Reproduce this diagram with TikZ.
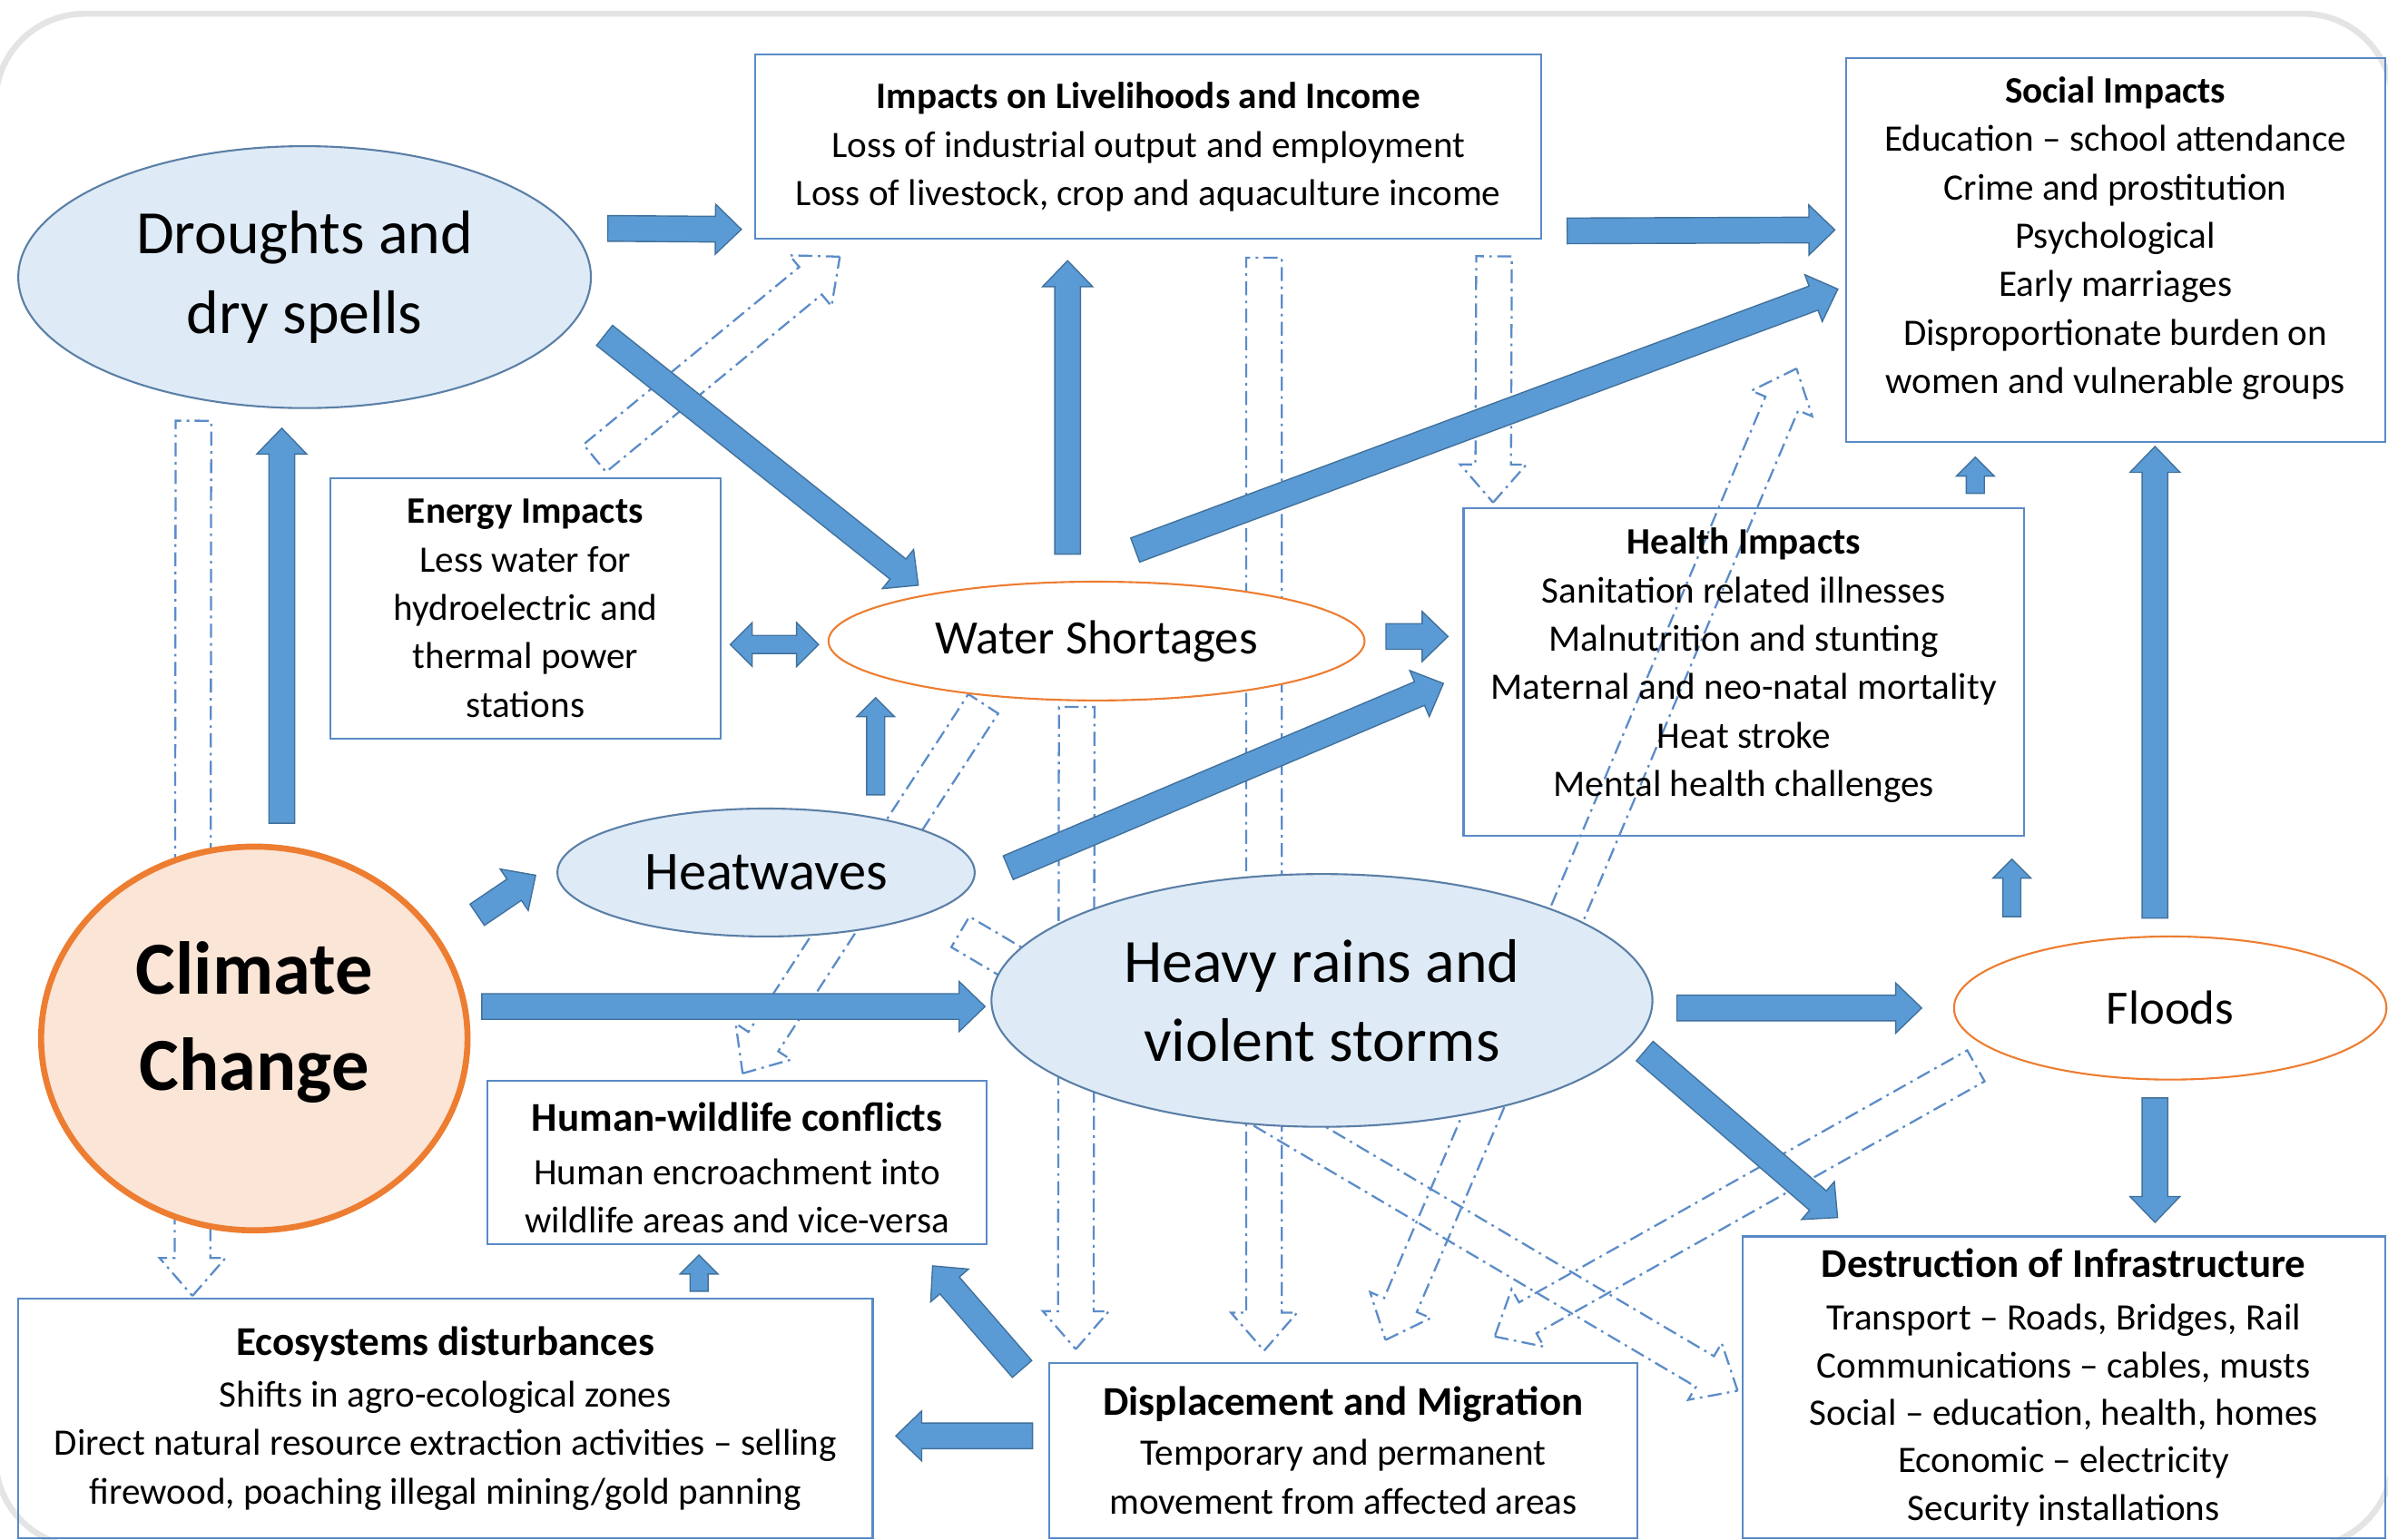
\documentclass[tikz,border=0pt]{standalone}
\usepackage{fontspec}
\setmainfont{Carlito}
\usetikzlibrary{shapes.geometric, shapes.arrows, calc}

\definecolor{arrowblue}{HTML}{5B9BD5}
\definecolor{arrowedge}{HTML}{41719C}
\definecolor{paleblue}{HTML}{DEEBF7}
\definecolor{ringblue}{HTML}{5B7FA6}
\definecolor{boxblue}{HTML}{5A8AC6}
\definecolor{linkblue}{HTML}{5B8CC8}
\definecolor{hotorange}{HTML}{ED7D31}
\definecolor{palepeach}{HTML}{FBE5D6}
\definecolor{framegray}{HTML}{E4E4E4}

\pgfdeclarelayer{frame}
\pgfdeclarelayer{links}
\pgfsetlayers{frame,links,main}

\newcommand{\dpx}{0.4774pt}
\newcommand{\boxhead}[1]{{\fontsize{12.8}{15.2}\selectfont\bfseries #1}}
% block arrow from one point to another, drawn as a rotated arrow shape
\newcommand{\blockarrow}[3][]{%
  \path let \p1=(#2), \p2=(#3),
    \n1={veclen(\x2-\x1,\y2-\y1)}, \n2={atan2(\y2-\y1,\x2-\x1)} in
    node[single arrow, anchor=tail, rotate=\n2, minimum height=\n1, #1] at (\p1) {};}

\begin{document}
\begin{tikzpicture}[
  x=0.4774pt, y=-0.4774pt,
  box/.style={draw=boxblue, line width=0.6pt, inner sep=0pt, align=center, font=\fontsize{11.7}{15.2}\selectfont},
  hazard/.style={ellipse, draw=ringblue, fill=paleblue, line width=0.6pt, inner sep=0pt, align=center},
  effect/.style={ellipse, draw=hotorange, fill=white, line width=0.6pt, inner sep=0pt, align=center},
  flow/.style={fill=arrowblue, draw=arrowedge, line width=0.4pt, inner xsep=0pt, inner ysep=3.82pt, single arrow head extend=3.82pt, single arrow tip angle=88, minimum width=0pt},
  smallflow/.style={flow, inner ysep=2.63pt, single arrow head extend=3.1pt, single arrow tip angle=90},
  link/.style={draw=linkblue, line width=0.65pt, dash pattern=on 4.4pt off 1.7pt on 0.8pt off 1.7pt, inner xsep=0pt, inner ysep=5.25pt, single arrow head extend=4.77pt, single arrow tip angle=82, minimum width=0pt}
]
\useasboundingbox (0,0) rectangle (1568,1011);

% card outline
\begin{pgfonlayer}{frame}
  \draw[framegray, line width=1.9pt, rounded corners=28pt] (-3,9) rectangle (1571,1016);
\end{pgfonlayer}

% Drivers
\node[effect, draw=hotorange, fill=palepeach, line width=1.9pt, minimum width=280*\dpx, minimum height=252*\dpx,
      font=\fontsize{23.5}{30}\selectfont\bfseries] (climate) at (167,682) {Climate\\Change\rule[-14.2pt]{0pt}{14.2pt}};
\node[hazard, minimum width=376*\dpx, minimum height=172*\dpx, font=\fontsize{19.3}{24.8}\selectfont] (droughts) at (200,182) {Droughts and\\dry spells};
\node[hazard, minimum width=274*\dpx, minimum height=84*\dpx, font=\fontsize{17.2}{20}\selectfont] (heat) at (503,573) {Heatwaves};
\node[hazard, minimum width=434*\dpx, minimum height=166*\dpx, font=\fontsize{19.3}{24.8}\selectfont] (heavy) at (868,657) {Heavy rains and\\violent storms};

% Direct effects
\node[effect, minimum width=352*\dpx, minimum height=78*\dpx, font=\fontsize{15}{18}\selectfont] (water) at (720,421) {Water Shortages};
\node[effect, minimum width=284*\dpx, minimum height=94*\dpx, font=\fontsize{15}{18}\selectfont] (floods) at (1425,662) {Floods};

% Impact boxes
\node[box, minimum width=516*\dpx, minimum height=121*\dpx] (livelihoods) at (754,96.5)
  {\textbf{Impacts on Livelihoods and Income}\\Loss of industrial output and employment\\Loss of livestock, crop and aquaculture income};
\node[box, minimum width=354*\dpx, minimum height=252*\dpx] (social) at (1389,164)
  {\textbf{Social Impacts}\\Education – school attendance\\Crime and prostitution\\Psychological\\Early marriages\\Disproportionate burden on\\women and vulnerable groups\rule[-9.2pt]{0pt}{9.2pt}};
\node[box, minimum width=256*\dpx, minimum height=171*\dpx] (energy) at (345,399.5)
  {\textbf{Energy Impacts}\\Less water for\\hydroelectric and\\thermal power\\stations};
\node[box, minimum width=368*\dpx, minimum height=215*\dpx] (health) at (1145,441.5)
  {\textbf{Health Impacts}\\Sanitation related illnesses\\Malnutrition and stunting\\Maternal and neo-natal mortality\\Heat stroke\\Mental health challenges\rule[-6.3pt]{0pt}{6.3pt}};
\node[box, minimum width=328*\dpx, minimum height=107*\dpx] (human) at (484,763.5)
  {\boxhead{\rule{0pt}{12.4pt}Human-wildlife conflicts}\\[1.5pt]Human encroachment into\\wildlife areas and vice-versa};
\node[box, minimum width=561*\dpx, minimum height=157*\dpx] (eco) at (292.5,931.5)
  {\boxhead{Ecosystems disturbances}\\[1pt]Shifts in agro-ecological zones\\Direct natural resource extraction activities – selling\\firewood, poaching illegal mining/gold panning};
\node[box, minimum width=386*\dpx, minimum height=115*\dpx] (displ) at (882,952.5)
  {\boxhead{Displacement and Migration}\\[0.5pt]Temporary and permanent\\movement from affected areas};
\node[box, minimum width=422*\dpx, minimum height=198*\dpx, font=\fontsize{11.7}{14.9}\selectfont] (destr) at (1355,911)
  {\boxhead{Destruction of Infrastructure}\\[1.8pt]Transport – Roads, Bridges, Rail\\Communications – cables, musts\\Social – education, health, homes\\Economic – electricity\\Security installations};

% Secondary links (dash-dot outline arrows, behind the shapes)
\begin{pgfonlayer}{links}
\blockarrow[link]{$(droughts.south)+(-73,7)$}{$(eco.north west)+(115,-2)$}
\blockarrow[link]{$(energy.north)+(45,-12)$}{$(livelihoods.south west)+(56,11)$}
\blockarrow[link]{$(livelihoods.south)+(76,11)$}{$(displ.north)+(-52,-8)$}
\blockarrow[link]{$(livelihoods.south)+(227,10)$}{$(health.north west)+(20,-4)$}
\blockarrow[link]{$(water.south)+(-13,3)$}{$(displ.north west)+(18,-9)$}
\blockarrow[link]{$(water.south)+(-74,1)$}{$(human.north)+(4,-5)$}
\blockarrow[link]{$(heavy.center)+(137,0)$}{$(social.south west)+(-32,-48)$}
\blockarrow[link]{$(heavy.center)+(137,0)$}{$(displ.north)+(28,-15)$}
\blockarrow[link]{$(floods.south)+(-127,-10)$}{$(displ.north)+(100,-17)$}
\blockarrow[link]{$(heat.south)+(127,-4)$}{$(destr.west)+(-3,2)$}
\end{pgfonlayer}

% Main flows
\blockarrow[flow]{$(climate.north)+(18,-13)$}{$(droughts.south)+(-15,13)$}
\blockarrow[flow]{$(climate.east)+(4,-81)$}{$(heat.west)+(-14,2)$}
\blockarrow[flow]{$(climate.east)+(7,-21)$}{$(heavy.west)+(-4,4)$}
\blockarrow[flow]{$(droughts.east)+(10,-32)$}{$(livelihoods.south west)+(-9,-7)$}
\blockarrow[flow]{$(droughts.east)+(8,38)$}{$(water.north)+(-117,3)$}
\blockarrow[flow]{$(livelihoods.south east)+(16,-6)$}{$(social.west)+(-7,-13)$}
\blockarrow[flow]{$(water.north)+(-19,-17)$}{$(livelihoods.south)+(-53,14)$}
\blockarrow[flow]{$(water.north)+(25,-20)$}{$(social.west)+(-5,26)$}
\blockarrow[flow]{$(water.east)+(13,-3)$}{$(health.west)+(-10,-23.5)$}
\blockarrow[smallflow]{$(heat.north)+(72,-8)$}{$(water.south)+(-145,-2)$}
\blockarrow[flow]{$(heat.east)+(21,-3)$}{$(health.west)+(-13,7.5)$}
\blockarrow[flow]{$(heavy.east)+(15,5)$}{$(floods.west)+(-21,0)$}
\blockarrow[flow]{$(heavy.east)+(-6,33)$}{$(destr.north west)+(63,-12)$}
\blockarrow[flow]{$(floods.north)+(-10,-11)$}{$(social.south)+(26,3)$}
\blockarrow[flow]{$(floods.south)+(-10,11)$}{$(destr.north)+(60,-9)$}
\blockarrow[smallflow]{$(floods.north)+(-104,-12)$}{$(health.south)+(176,15)$}
\blockarrow[smallflow]{$(health.north)+(152,-9)$}{$(social.south)+(-92,10)$}
\blockarrow[smallflow]{$(eco.north)+(166.5,-4)$}{$(human.south)+(-25,7)$}
\blockarrow[flow]{$(displ.north west)+(-17,5)$}{$(human.south east)+(-36,14)$}
\blockarrow[flow]{$(displ.west)+(-10,-9.5)$}{$(eco.east)+(15,11.5)$}

% two-way link between energy and water
\node[double arrow, fill=arrowblue, draw=arrowedge, line width=0.4pt, inner xsep=0pt, inner ysep=2.63pt,
      double arrow head extend=4.06pt, double arrow tip angle=90, minimum width=0pt, minimum height=58*\dpx]
  (energywater) at ($(energy.east)!0.5!(water.west)+(0,13)$) {};

\end{tikzpicture}
\end{document}
